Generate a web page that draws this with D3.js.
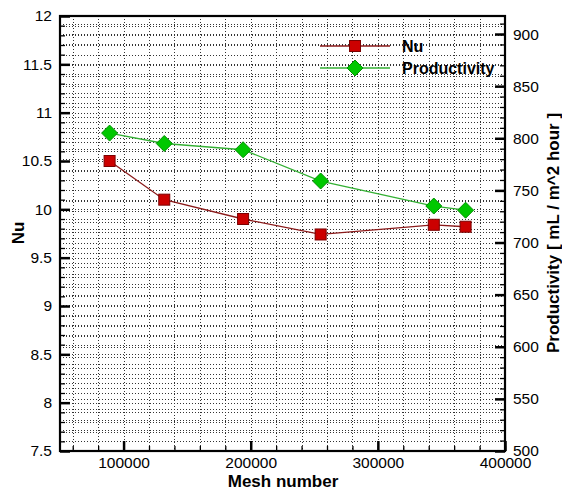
<!DOCTYPE html>
<html>
<head>
<meta charset="utf-8">
<script src="https://cdn.jsdelivr.net/npm/d3@7"></script>
<style>
  html, body { margin: 0; padding: 0; background: #fff; }
  svg { display: block; font-family: "Liberation Sans", Arial, sans-serif; }
</style>
</head>
<body>
<svg id="chart" width="562" height="491"></svg>
<script>
// ---- data ----
const meshNumbers = [89000, 132000, 194000, 255000, 344000, 369000];
const nuValues = [10.5, 10.1, 9.9, 9.74, 9.84, 9.82];
const productivityValues = [805, 795, 789, 759, 735, 731];
const xTicks = [100000, 200000, 300000, 400000];
const nuTicks = [7.5, 8, 8.5, 9, 9.5, 10, 10.5, 11, 11.5, 12];
const prodTicks = [500, 550, 600, 650, 700, 750, 800, 850, 900];
const seriesNames = ["Nu", "Productivity"];

// ---- layout ----
const svg = d3.select("#chart");
const L = 60, R = 505, T = 16, B = 451;

const x = d3.scaleLinear().domain([50000, 400000]).range([L, R]);
const yL = d3.scaleLinear().domain([7.5, 12]).range([B, T]);
const yR = d3.scaleLinear().domain([500, 917.3]).range([B, T]);

const g = svg.append("g");

// grid
const xMinor = d3.range(60000, 400001, 20000);
const yLMinor = d3.range(7.6, 12.0, 0.1).map(v => +v.toFixed(1));
const yRMinor = d3.range(510, 917, 10);

const grid = g.append("g").attr("stroke", "#333").attr("stroke-width", 1)
  .attr("stroke-dasharray", "1,2").attr("fill", "none");
grid.selectAll(".vx").data(xMinor.filter(v => v < 400000)).join("line")
  .attr("x1", d => Math.round(x(d)) + 0.5).attr("x2", d => Math.round(x(d)) + 0.5)
  .attr("y1", T).attr("y2", B);
grid.selectAll(".hl").data(yLMinor).join("line").attr("class", "hl")
  .attr("x1", L).attr("x2", R)
  .attr("y1", d => Math.round(yL(d)) + 0.5).attr("y2", d => Math.round(yL(d)) + 0.5);
grid.selectAll(".hr").data(yRMinor).join("line").attr("class", "hr")
  .attr("x1", L).attr("x2", R)
  .attr("y1", d => Math.round(yR(d)) + 0.5).attr("y2", d => Math.round(yR(d)) + 0.5);

// axes (ticks inward)
const fontSize = 15.5;
const axL = d3.axisLeft(yL).tickValues(nuTicks).tickSize(-10).tickPadding(8)
  .tickFormat(d => d3.format("")(d));
const axLminor = d3.axisLeft(yL).tickValues(yLMinor).tickSize(-5).tickFormat("");
const axB = d3.axisBottom(x).tickValues(xTicks).tickSize(-10).tickPadding(6)
  .tickFormat(d3.format("d"));
const axBminor = d3.axisBottom(x).tickValues(xMinor).tickSize(-5).tickFormat("");
const axR = d3.axisRight(yR).tickValues(prodTicks).tickSize(-10).tickPadding(8)
  .tickFormat(d3.format("d"));
const axRminor = d3.axisRight(yR).tickValues(yRMinor).tickSize(-5).tickFormat("");

function style(sel, w) {
  sel.select(".domain").remove();
  sel.selectAll(".tick line").attr("stroke", "#000").attr("stroke-width", w);
  sel.selectAll("text").attr("fill", "#000").style("font-size", fontSize + "px")
    .style("font-family", "'Liberation Sans', Arial, sans-serif");
}
g.append("g").attr("transform", `translate(${L},0)`).call(axLminor).call(s => style(s, 1.3));
g.append("g").attr("transform", `translate(${L},0)`).call(axL).call(s => style(s, 2.5));
g.append("g").attr("transform", `translate(0,${B})`).call(axBminor).call(s => style(s, 1.3));
g.append("g").attr("transform", `translate(0,${B})`).call(axB).call(s => style(s, 2.5));
g.append("g").attr("transform", `translate(${R},0)`).call(axRminor).call(s => style(s, 1.3));
g.append("g").attr("transform", `translate(${R},0)`).call(axR).call(s => style(s, 2.5));

// frame
g.append("rect").attr("x", L).attr("y", T).attr("width", R - L).attr("height", B - T)
  .attr("fill", "none").attr("stroke", "#000").attr("stroke-width", 2.2);

// series
const nuData = meshNumbers.map((m, i) => ({ x: m, y: nuValues[i] }));
const prData = meshNumbers.map((m, i) => ({ x: m, y: productivityValues[i] }));

const nuColor = "#8b1a1a", prColor = "#33b033";

g.append("path").datum(nuData)
  .attr("fill", "none").attr("stroke", nuColor).attr("stroke-width", 1.3)
  .attr("d", d3.line().x(d => x(d.x)).y(d => yL(d.y)));
g.append("path").datum(prData)
  .attr("fill", "none").attr("stroke", prColor).attr("stroke-width", 1.3)
  .attr("d", d3.line().x(d => x(d.x)).y(d => yR(d.y)));

const sq = 11, dm = 8;
function square(sel) {
  sel.attr("x", -sq / 2).attr("y", -sq / 2).attr("width", sq).attr("height", sq)
    .attr("fill", "#cc0000").attr("stroke", "#7a0000").attr("stroke-width", 1);
}
function diamond(sel) {
  sel.attr("d", `M0,${-dm}L${dm},0L0,${dm}L${-dm},0Z`)
    .attr("fill", "#00c800").attr("stroke", "#009000").attr("stroke-width", 1);
}
g.selectAll(".nu").data(nuData).join("rect")
  .attr("transform", d => `translate(${x(d.x)},${yL(d.y)})`).call(square);
g.selectAll(".pr").data(prData).join("path")
  .attr("transform", d => `translate(${x(d.x)},${yR(d.y)})`).call(diamond);

// legend
const leg = g.append("g");
const legRows = [
  { name: seriesNames[0], y: 46, color: nuColor, mark: "sq" },
  { name: seriesNames[1], y: 68, color: prColor, mark: "dm" }
];
legRows.forEach(r => {
  leg.append("line").attr("x1", 320).attr("x2", 390).attr("y1", r.y).attr("y2", r.y)
    .attr("stroke", r.color).attr("stroke-width", 1.3);
  if (r.mark === "sq") leg.append("rect").attr("transform", `translate(355,${r.y})`).call(square);
  else leg.append("path").attr("transform", `translate(355,${r.y})`).call(diamond);
  leg.append("text").attr("x", 402).attr("y", r.y).attr("dy", "0.36em")
    .style("font-size", "16px").style("font-weight", "bold").text(r.name);
});

// axis titles
svg.append("text").attr("x", 283).attr("y", 487).attr("text-anchor", "middle")
  .style("font-size", "17px").style("font-weight", "bold").text("Mesh number");
svg.append("text").attr("transform", "translate(24,233) rotate(-90)").attr("text-anchor", "middle")
  .style("font-size", "17px").style("font-weight", "bold").text("Nu");
svg.append("text").attr("transform", "translate(547,233) rotate(-90)").attr("text-anchor", "middle")
  .attr("dy", "0.7em")
  .style("font-size", "17px").style("font-weight", "bold").text("Productivity [ mL / m^2 hour ]");
</script>
</body>
</html>
